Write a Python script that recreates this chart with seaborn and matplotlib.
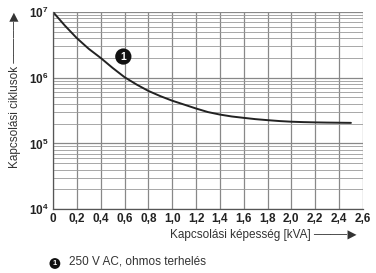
import matplotlib
matplotlib.use("Agg")
import matplotlib.pyplot as plt
import seaborn as sns
import pandas as pd
import numpy as np
from matplotlib.ticker import LogLocator

sns.set_style("white")
plt.rcParams['font.family'] = ['Liberation Sans', 'DejaVu Sans']
plt.rcParams['mathtext.fontset'] = 'custom'
plt.rcParams['mathtext.rm'] = 'Liberation Sans:bold'
plt.rcParams['mathtext.bf'] = 'Liberation Sans:bold'
plt.rcParams['mathtext.default'] = 'bf'

# curve (kVA -> switching cycles)
load_kva = [0.0, 0.1, 0.2, 0.3, 0.4, 0.5, 0.6, 0.7, 0.8, 0.9, 1.0, 1.1, 1.2,
            1.3, 1.4, 1.5, 1.6, 1.7, 1.8, 1.9, 2.0, 2.1, 2.2, 2.3, 2.4, 2.5]
cycles = [1.0e7, 6.2e6, 4.0e6, 2.75e6, 2.0e6, 1.41e6, 1.02e6, 7.9e5, 6.3e5,
          5.25e5, 4.47e5, 3.9e5, 3.4e5, 3.0e5, 2.75e5, 2.57e5, 2.45e5, 2.34e5,
          2.26e5, 2.19e5, 2.14e5, 2.11e5, 2.09e5, 2.075e5, 2.065e5, 2.055e5]

x_ticks = [0, 0.2, 0.4, 0.6, 0.8, 1.0, 1.2, 1.4, 1.6, 1.8, 2.0, 2.2, 2.4, 2.6]
x_labels = ["0", "0,2", "0,4", "0,6", "0,8", "1,0", "1,2", "1,4", "1,6",
            "1,8", "2,0", "2,2", "2,4", "2,6"]
y_ticks = [1e4, 1e5, 1e6, 1e7]
y_labels = ["$10^4$", "$10^5$", "$10^6$", "$10^7$"]

df = pd.DataFrame({"kva": load_kva, "cycles": cycles})

fig = plt.figure(figsize=(3.76, 2.73), dpi=100)
ax = fig.add_axes([0.141, 0.234, 0.824, 0.722])

sns.lineplot(data=df, x="kva", y="cycles", ax=ax, color="#222222", linewidth=1.4)

ax.set_yscale("log")
ax.set_xlim(0, 2.6)
ax.set_ylim(1e4, 1e7)
ax.set_xticks(x_ticks)
ax.set_xticklabels(x_labels, fontsize=8.5, fontweight="bold", color="#222222")
ax.set_yticks(y_ticks)
ax.set_yticklabels(y_labels, fontsize=8.5, fontweight="bold", color="#222222")
ax.yaxis.set_minor_locator(LogLocator(base=10, subs=np.arange(2, 10)))
ax.tick_params(axis="both", which="both", length=0, pad=3)
ax.tick_params(axis="y", which="minor", labelleft=False)

ax.grid(True, which="major", axis="both", color="#888888", linewidth=0.9)
ax.grid(True, which="minor", axis="y", color="#999999", linewidth=0.6)

for side in ["top", "right"]:
    ax.spines[side].set_visible(False)
for side in ["left", "bottom"]:
    ax.spines[side].set_color("#555555")
    ax.spines[side].set_linewidth(0.9)

ax.set_xlabel("Kapcsolási képesség [kVA] ────▶", fontsize=8.5, color="#333333",
              ha="right", x=0.98, labelpad=3)
ax.set_ylabel("Kapcsolási ciklusok ─────▶", fontsize=8.5, color="#333333",
              ha="right", y=1.0, labelpad=6)

# callout marker on the curve
ax.text(0.59, 2.1e6, "1", color="white", fontsize=7.5, fontweight="bold",
        ha="center", va="center", zorder=6,
        bbox=dict(boxstyle="circle,pad=0.3", fc="#111111", ec="none"))

# footnote
fig.text(0.146, 0.022, "1", fontsize=5.5, color="white", fontweight="bold",
         ha="center", va="bottom",
         bbox=dict(boxstyle="circle,pad=0.25", fc="#111111", ec="none"))
fig.text(0.183, 0.02, "250 V AC, ohmos terhelés", fontsize=8.5, color="#333333",
         va="bottom")

fig.savefig("out.png", dpi=100)
